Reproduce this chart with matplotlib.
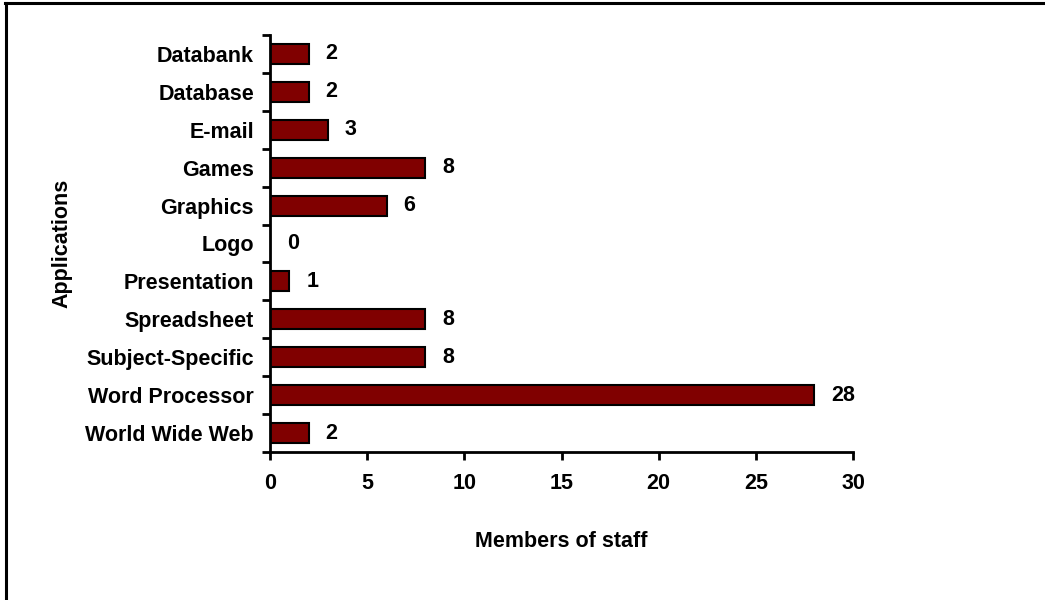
import matplotlib.pyplot as plt
from matplotlib.lines import Line2D

plt.rcParams['font.family'] = ['Liberation Sans', 'DejaVu Sans']
plt.rcParams['font.weight'] = 'bold'

apps = ['Databank', 'Database', 'E-mail', 'Games', 'Graphics', 'Logo',
        'Presentation', 'Spreadsheet', 'Subject-Specific', 'Word Processor',
        'World Wide Web']
staff = [2, 2, 3, 8, 6, 0, 1, 8, 8, 28, 2]
x_ticks = [0, 5, 10, 15, 20, 25, 30]

fs = 15.5

fig = plt.figure(figsize=(10.45, 6), dpi=100)
ax = fig.add_axes([0.2584, 0.2467, 0.8163 - 0.2584, 0.9417 - 0.2467])

pos = list(range(len(apps)))
ax.barh(pos, staff, height=0.53, color='#800000', edgecolor='black', linewidth=1.5)
for p, v in zip(pos, staff):
    ax.annotate(str(v), (v, p), xytext=(12, 0), textcoords='offset points',
                va='center', ha='left', fontsize=fs, fontweight='bold')

ax.set_ylim(len(apps) - 0.5, -0.5)
ax.set_xlim(0, 30)
ax.set_xticks(x_ticks)
ax.set_xticklabels([str(t) for t in x_ticks], fontsize=fs, fontweight='bold')
# major ticks sit between the bars, labels go on minor ticks at bar centres
ax.set_yticks([p + 0.5 for p in [-1] + pos])
ax.set_yticklabels([])
ax.set_yticks(pos, minor=True)
ax.set_yticklabels(apps, minor=True, fontsize=fs, fontweight='bold')
ax.tick_params(axis='y', which='minor', length=0, pad=11.5)
ax.tick_params(axis='y', which='major', length=6, width=2, direction='out')
ax.tick_params(axis='x', length=6, width=2, direction='out', pad=9)

for s in ['top', 'right']:
    ax.spines[s].set_visible(False)
for s in ['left', 'bottom']:
    ax.spines[s].set_linewidth(2)

ax.set_xlabel('Members of staff', fontsize=fs, fontweight='bold', labelpad=27)
ax.set_ylabel('Applications', fontsize=fs, fontweight='bold', labelpad=9)

# frame lines (left and top only, as in the reference)
fig.add_artist(Line2D([0.0055, 0.0055], [0, 0.995], transform=fig.transFigure,
                      color='black', linewidth=2.2))
fig.add_artist(Line2D([0.0045, 1], [0.9942, 0.9942], transform=fig.transFigure,
                      color='black', linewidth=2.2))

fig.savefig('out.png', dpi=100)
